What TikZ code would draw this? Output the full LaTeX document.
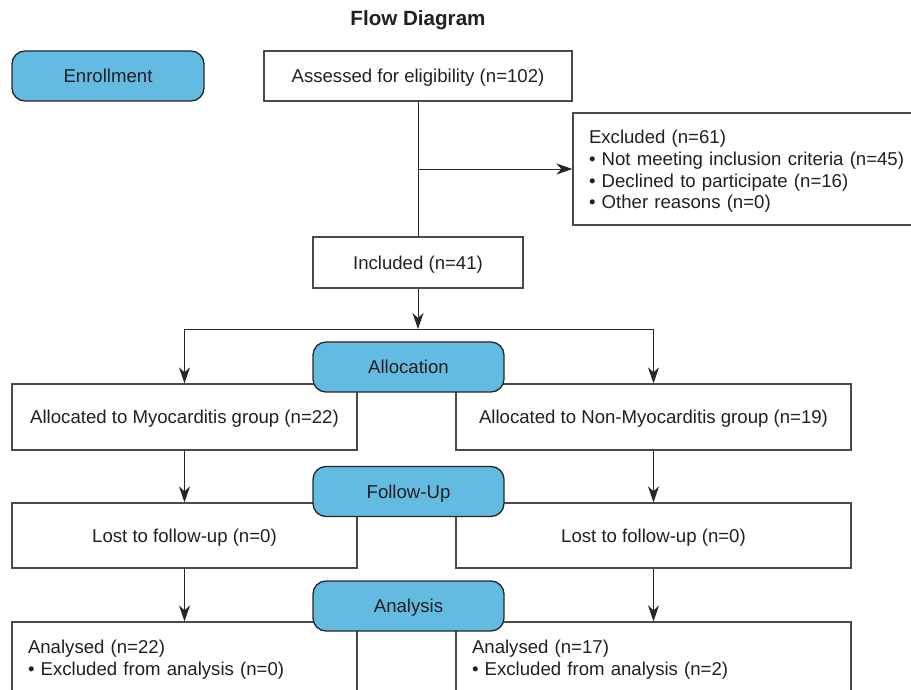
\documentclass[tikz,border=0pt]{standalone}
\usepackage{fontspec}
\setmainfont{Liberation Sans}
\usetikzlibrary{arrows.meta}
\definecolor{phaseblue}{HTML}{63BBE1}
\definecolor{boxline}{HTML}{4A4A4A}
\definecolor{txt}{HTML}{231F20}
\begin{document}
\begin{tikzpicture}[x=1pt,y=-1pt,
  font=\fontsize{18.6}{21.7}\selectfont, text=txt,
  box/.style={draw=boxline, line width=1.3pt, fill=white, inner sep=0pt, text=txt},
  onebox/.style={box, text depth=0pt},
  listbox/.style={box, align=left, inner xsep=16pt, text height=13.5pt},
  phase/.style={draw=black!85, line width=1.3pt, fill=phaseblue, rounded corners=13pt,
    minimum width=191pt, minimum height=50pt, inner sep=0pt, text depth=0pt},
  conn/.style={draw=black!85, line width=0.9pt},
  arr/.style={conn, -{Stealth[length=16pt,width=11pt,inset=5pt]}}]
\useasboundingbox (0,0) rectangle (911,690);
\clip (0,0) rectangle (911,690);

\node[font=\fontsize{20.6}{24}\selectfont\bfseries] (title) at (418,20) {Flow Diagram};

% enrollment stage
\node[phase, minimum width=192pt] (enroll) at (108,76) {Enrollment};
\node[onebox, minimum width=308pt, minimum height=50pt] (assess) at (418,76) {Assessed for eligibility (n=102)};
\node[listbox, minimum width=387pt, minimum height=112pt, text width=355pt, text depth=64pt] (excl) at (766.5,169)
  {Excluded (n=61)\\ • Not meeting inclusion criteria (n=45)\\ • Declined to participate (n=16)\\ • Other reasons (n=0)};
\node[onebox, minimum width=210pt, minimum height=51pt] (incl) at (418,262.5) {Included (n=41)};

% group boxes
\node[onebox, minimum width=345pt, minimum height=66pt] (myo) at (184.5,417) {Allocated to Myocarditis group (n=22)};
\node[onebox, minimum width=395pt, minimum height=66pt] (non) at (653.5,417) {Allocated to Non-Myocarditis group (n=19)};
\node[onebox, minimum width=345pt, minimum height=65pt] (lostL) at (184.5,535.5) {Lost to follow-up (n=0)};
\node[onebox, minimum width=395pt, minimum height=65pt] (lostR) at (653.5,535.5) {Lost to follow-up (n=0)};
\node[listbox, minimum width=345pt, minimum height=71pt, text width=313pt, text depth=21.6pt] (anaL) at (184.5,657.5)
  {Analysed (n=22)\\ • Excluded from analysis (n=0)};
\node[listbox, minimum width=395pt, minimum height=71pt, text width=363pt, text depth=21.6pt] (anaR) at (653.5,657.5)
  {Analysed (n=17)\\ • Excluded from analysis (n=2)};

% phase labels
\node[phase] (alloc) at (408.5,367) {Allocation};
\node[phase] (follow) at (408.5,491.5) {Follow-Up};
\node[phase] (analysis) at (408.5,606) {Analysis};

% connectors
\draw[conn] (assess.south) -- (incl.north);
\draw[arr] (assess.south |- excl.west) -- (excl.west);
\coordinate (split) at (418,329);
\draw[arr] (incl.south) -- (split);
\draw[arr] (split) -| (myo.north);
\draw[arr] (split) -| (non.north);
\draw[arr] (myo.south) -- (lostL.north);
\draw[arr] (non.south) -- (lostR.north);
\draw[arr] (lostL.south) -- (anaL.north);
\draw[arr] (lostR.south) -- (anaR.north);
\end{tikzpicture}
\end{document}
